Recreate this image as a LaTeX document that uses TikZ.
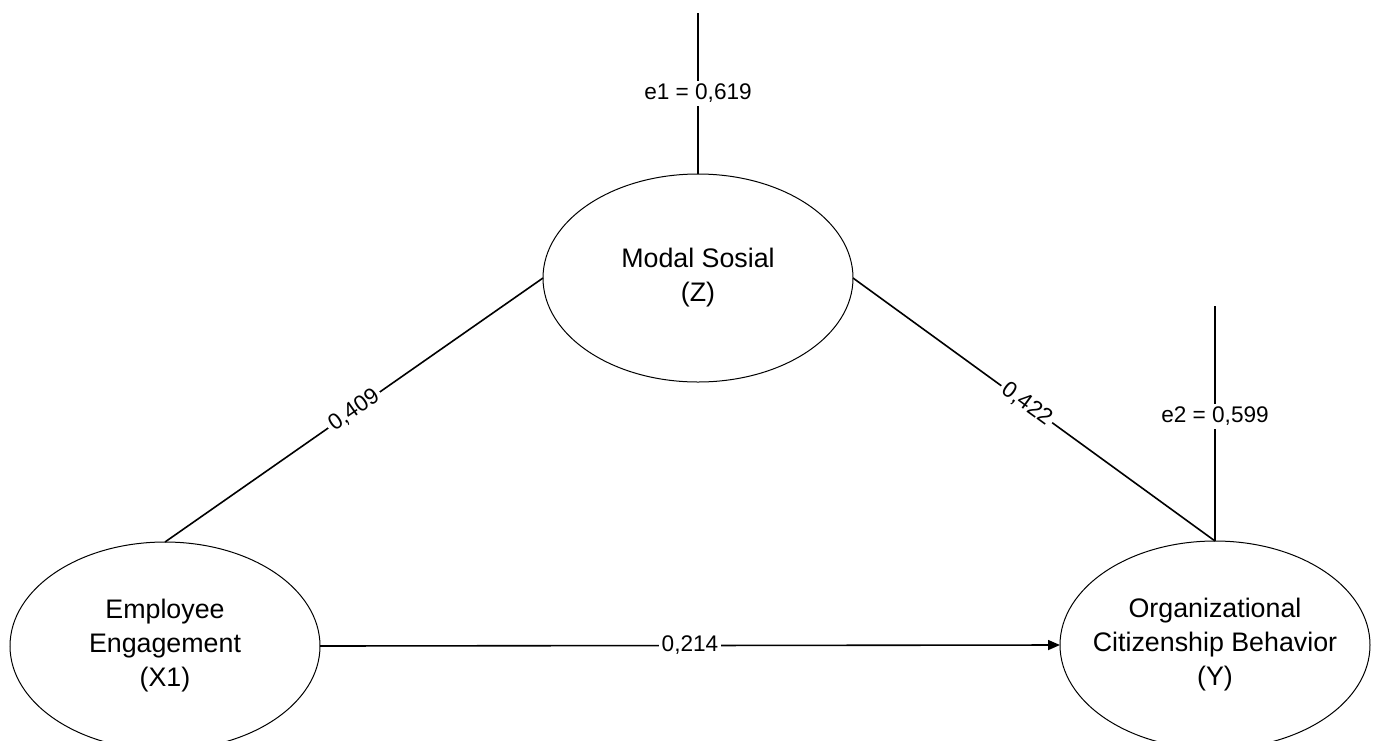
\documentclass[tikz,border=0pt]{standalone}
\usepackage{fontspec}
\setmainfont{Liberation Sans}
\usetikzlibrary{arrows.meta,positioning,shapes.geometric}

\begin{document}
\begin{tikzpicture}[
    x=0.5pt, y=-0.5pt,
    every node/.style={font=\fontsize{13.4}{17}\selectfont},
    lv/.style={ellipse, draw, line width=0.5pt, minimum width=155pt,
               minimum height=104pt, inner sep=-20pt, outer sep=0pt, align=center},
    e/.style={line width=0.8pt},
    ea/.style={e, -{Triangle[length=6pt, width=5pt]}},
    lbl/.style={font=\fontsize{11.3}{13}\selectfont, inner sep=1.5pt, fill=white},
  ]
  \useasboundingbox (0,0) rectangle (1376,740);
  \node[lv] (mz) at (698, 278) {Modal Sosial\\(Z)};
  \node[lv] (ex) at (165, 646) {Employee\\Engagement\\(X1)};
  \node[lv] (oy) at (1215, 645) {Organizational\\Citizenship Behavior\\(Y)};
  \coordinate (e1) at (698, 13);
  \coordinate (e2) at (1215, 306);
  \draw[e] (e1) -- node[lbl, pos=0.5] {e1 = 0,619} (mz.north);
  \draw[e] (e2) -- node[lbl, pos=0.47] {e2 = 0,599} (oy.north);
  \draw[e] (ex.north) -- node[lbl, sloped, pos=0.5] {0,409} (mz.west);
  \draw[e] (mz.east) -- node[lbl, sloped, pos=0.48] {0,422} (oy.north);
  \draw[ea] (ex.east) -- node[lbl, pos=0.5] {0,214} (oy.west);
\end{tikzpicture}
\end{document}
